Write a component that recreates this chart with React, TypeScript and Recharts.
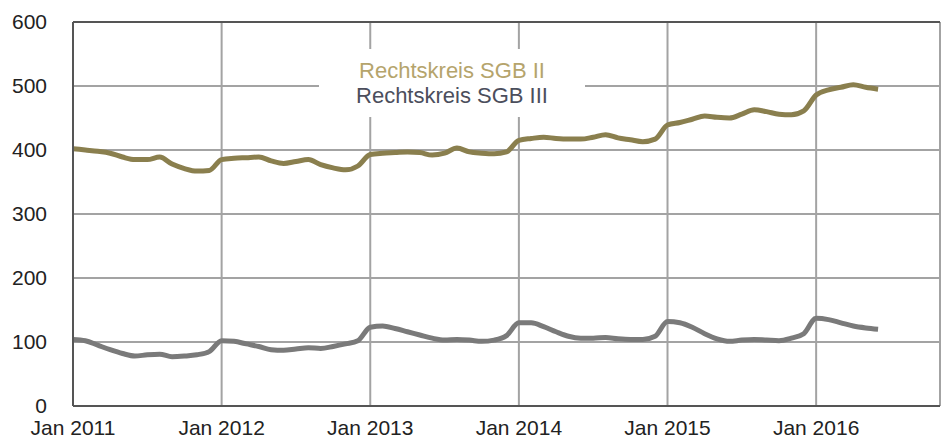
import React from 'react';
import { LineChart, Line, XAxis, YAxis, CartesianGrid, ReferenceLine, Legend } from 'recharts';

// month index 0 = Jan 2011
const sgb2: number[] = [
  402, 400, 398, 395, 389, 385, 385, 389, 378, 371, 367, 368,
  385, 387, 388, 389, 383, 379, 382, 385, 377, 372, 369, 375,
  393, 395, 396, 397, 396, 392, 395, 403, 397, 395, 394, 397,
  415, 418, 420, 418, 417, 417, 420, 424, 419, 416, 413, 417,
  439, 443, 448, 453, 451, 450, 456, 463, 460, 456, 455, 461,
  486, 494, 498, 502, 498, 495,
];

const sgb3: number[] = [
  104, 102, 95, 88, 82, 78, 80, 81, 77, 78, 80, 85,
  102, 101, 97, 93, 88, 87, 89, 91, 90, 93, 97, 102,
  123, 125, 121, 116, 111, 106, 103, 104, 103, 101, 103, 110,
  130, 130, 124, 116, 109, 106, 106, 107, 105, 104, 104, 109,
  132, 130, 123, 113, 105, 101, 103, 104, 103, 102, 106, 113,
  137, 135, 130, 125, 122, 120,
];

const seriesNames = ['Rechtskreis SGB II', 'Rechtskreis SGB III'];
const xTicks = [0, 12, 24, 36, 48, 60];
const xTickLabels = ['Jan 2011', 'Jan 2012', 'Jan 2013', 'Jan 2014', 'Jan 2015', 'Jan 2016'];
const yTicks = [0, 100, 200, 300, 400, 500, 600];

const data = sgb2.map((v, i) => ({ m: i, sgb2: v, sgb3: sgb3[i] }));

const font = '"Liberation Sans", Arial, sans-serif';
const legendText = ['#b5a46c', '#4b4e5c'];

const LegendBox = () => (
  <div
    style={{
      background: '#fff',
      width: 266,
      height: 68,
      display: 'flex',
      flexDirection: 'column',
      justifyContent: 'center',
      alignItems: 'center',
      fontFamily: font,
      fontSize: 22,
      lineHeight: '25px',
    }}
  >
    {seriesNames.map((n, i) => (
      <span key={n} style={{ color: legendText[i] }}>{n}</span>
    ))}
  </div>
);

const App: React.FC = () => {
  return (
    <div style={{ position: 'absolute', left: 0, top: 0, background: '#fff' }}>
      <LineChart width={942} height={443} data={data} margin={{ top: 22, right: 2, bottom: 0, left: 0 }}>
        <CartesianGrid stroke="#a3a3a3" strokeWidth={2} verticalPoints={undefined} />
        <XAxis
          dataKey="m"
          type="number"
          domain={[0, 70]}
          ticks={xTicks}
          tickFormatter={(v: number) => xTickLabels[xTicks.indexOf(v)]}
          height={37}
          tickLine={false}
          tickSize={0}
          tickMargin={14}
          axisLine={{ stroke: '#555', strokeWidth: 2 }}
          tick={{ fontSize: 21, fill: '#222', fontFamily: font }}
        />
        <YAxis
          domain={[0, 600]}
          ticks={yTicks}
          width={73}
          tickLine={false}
          tickSize={0}
          tickMargin={26}
          axisLine={{ stroke: '#555', strokeWidth: 2 }}
          tick={{ fontSize: 21, fill: '#222', fontFamily: font }}
        />
        <ReferenceLine y={600} stroke="#555" strokeWidth={2} />
        <Legend
          layout="horizontal"
          verticalAlign="middle"
          align="center"
          content={() => <LegendBox />}
          wrapperStyle={{ left: 319, top: 49, width: 266, height: 68 }}
        />
        <Line
          type="monotone"
          dataKey="sgb2"
          name={seriesNames[0]}
          stroke="#8a7f4e"
          strokeWidth={5}
          dot={false}
          isAnimationActive={false}
        />
        <Line
          type="monotone"
          dataKey="sgb3"
          name={seriesNames[1]}
          stroke="#7a7a7a"
          strokeWidth={5}
          dot={false}
          isAnimationActive={false}
        />
      </LineChart>
    </div>
  );
};

export default App;
